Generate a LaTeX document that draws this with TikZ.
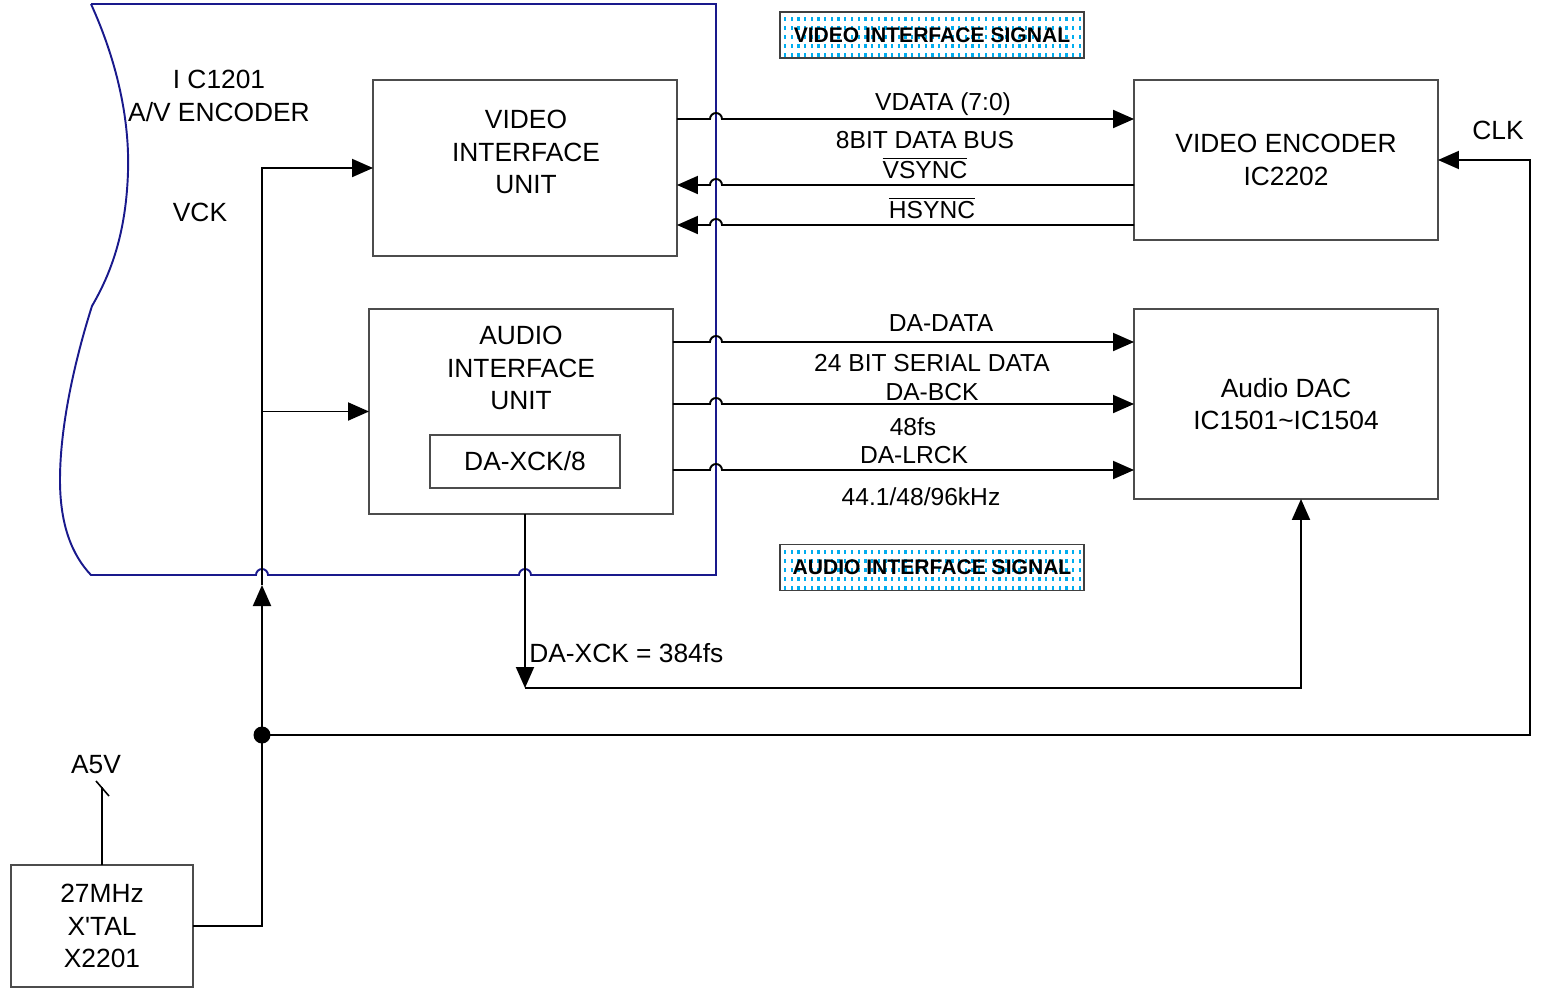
\documentclass[tikz,border=0pt]{standalone}
\usepackage{fontspec}
\setmainfont{Liberation Sans}
\usetikzlibrary{arrows.meta}
\definecolor{icblue}{rgb}{0.1,0.1,0.55}
\tikzset{
  wire/.style={line width=1.1pt},
  sig/.style={-{Triangle[length=4.2mm, width=3.6mm]}, line width=1.1pt},
  unitbox/.style={draw=black!70, line width=0.7pt, inner sep=0pt, outer sep=0pt},
  chipedge/.style={draw=icblue, line width=1.1pt},
  sigbox/.style={draw=black!75, line width=0.8pt, inner sep=0pt, minimum width=6.08cm, minimum height=0.92cm, font=\fontsize{12}{14}\selectfont\bfseries},
  boxtxt/.style={align=center, font=\fontsize{15}{18.5}\selectfont, inner sep=0pt},
  lbl/.style={font=\fontsize{14}{17}\selectfont, inner sep=0pt}
}

\begin{document}
\begin{tikzpicture}[x=0.02cm, y=-0.02cm]
  \useasboundingbox (0,0) rectangle (1546,994);

  % A/V encoder outline
  \draw[chipedge] (91,4) -- (716,4) -- (716,575) -- (531,575)
    arc[start angle=0, end angle=-180, radius=6] -- (268,575)
    arc[start angle=0, end angle=-180, radius=6] -- (91,575)
    .. controls (72,555) and (60,525) .. (60,480)
    .. controls (60,420) and (78,350) .. (92,306)
    .. controls (110,275) and (126,235) .. (128,172)
    .. controls (130,110) and (112,50) .. (91,4);
  \node[boxtxt] (ictitle) at (219,96) {I C1201\\A/V ENCODER};
  \node[boxtxt] (vcklbl) at (200,212) {VCK};

  % signal group boxes
  \foreach \px in {785,791.7,...,1080}
    \foreach \py in {17,26,...,54}
      \draw[cyan, line width=1.3pt] (\px,\py) -- ++(0,4);
  \foreach \px in {785,791.7,...,1080}
    \foreach \py in {550,559,...,587}
      \draw[cyan, line width=1.3pt] (\px,\py) -- ++(0,4);
  \node[sigbox] (vsig) at (932,35) {VIDEO INTERFACE SIGNAL};
  \node[sigbox] (asig) at (932,567.5) {AUDIO INTERFACE SIGNAL};

  % blocks
  \node[unitbox, minimum width=6.08cm, minimum height=3.52cm] (viu) at (525,168) {};
  \node[boxtxt] (viutxt) at (526,152) {VIDEO\\INTERFACE\\UNIT};
  \node[unitbox, minimum width=6.08cm, minimum height=4.10cm] (aiu) at (521,411.5) {};
  \node[boxtxt] (aiutxt) at (521,368) {AUDIO\\INTERFACE\\UNIT};
  \node[unitbox, boxtxt, draw=black!70, minimum width=3.8cm, minimum height=1.06cm] (xck8) at (525,461.5) {DA-XCK/8};
  \node[unitbox, boxtxt, draw=black!70, minimum width=6.08cm, minimum height=3.2cm] (venc) at (1286,160) {VIDEO ENCODER\\IC2202};
  \node[unitbox, boxtxt, draw=black!70, minimum width=6.08cm, minimum height=3.8cm] (dac) at (1286,404) {Audio DAC\\IC1501\textasciitilde IC1504};
  \node[unitbox, boxtxt, draw=black!70, minimum width=3.64cm, minimum height=2.44cm] (xtal) at (102,926) {27MHz\\X\textquotesingle TAL\\X2201};

  % video interface signals
  \draw[sig] (viu.east |- 0,119) -- (710,119) arc[start angle=180, end angle=360, radius=6] -- (venc.west |- 0,119);
  \draw[sig] (venc.west |- 0,185) -- (722,185) arc[start angle=0, end angle=-180, radius=6] -- (viu.east |- 0,185);
  \draw[sig] (venc.west |- 0,225) -- (722,225) arc[start angle=0, end angle=-180, radius=6] -- (viu.east |- 0,225);
  \node[lbl] (vdatalbl) at (943,104) {VDATA (7:0)};
  \node[lbl] (buslbl) at (925,140) {8BIT DATA BUS};
  \node[lbl] (vsynclbl) at (925,168) {$\overline{\mbox{VSYNC}}$};
  \node[lbl] (hsynclbl) at (932,208) {$\overline{\mbox{HSYNC}}$};

  % audio interface signals
  \draw[sig] (aiu.east |- 0,342) -- (710,342) arc[start angle=180, end angle=360, radius=6] -- (dac.west |- 0,342);
  \draw[sig] (aiu.east |- 0,404) -- (710,404) arc[start angle=180, end angle=360, radius=6] -- (dac.west |- 0,404);
  \draw[sig] (aiu.east |- 0,470) -- (710,470) arc[start angle=180, end angle=360, radius=6] -- (dac.west |- 0,470);
  \node[lbl] (dadatalbl) at (941,323) {DA-DATA};
  \node[lbl] (seriallbl) at (932,363) {24 BIT SERIAL DATA};
  \node[lbl] (bcklbl) at (932,392) {DA-BCK};
  \node[lbl] (bckrate) at (913,427) {48fs};
  \node[lbl] (lrcklbl) at (914,455) {DA-LRCK};
  \node[lbl] (lrckrate) at (921,497) {44.1/48/96kHz};

  % clocks
  \node[circle, fill, inner sep=0pt, minimum size=0.34cm] (jn) at (262,735) {};
  \coordinate (vckup) at (262,585);
  \coordinate (vckbr) at (262,411.5);
  \coordinate (clkc) at (1530,735);
  \coordinate (xckdn) at (525,688);
  \draw[wire] (xtal.east) -| (jn.center);
  \draw[sig] (jn.center) -- (vckup);
  \draw[sig] (vckup) |- (viu.west);
  \draw[sig] (vckbr) -- (aiu.west);
  \draw[sig] (jn.center) -- (clkc) |- (venc.east);
  \node[lbl, font=\fontsize{15}{18}\selectfont] (clklbl) at (1498,130) {CLK};
  \draw[sig] (xck8.south |- aiu.south) -- (xckdn);
  \draw[sig] (xckdn) -| ([xshift=0.3cm]dac.south);
  \node[lbl, font=\fontsize{15}{18}\selectfont, anchor=west] (xcklbl) at (529,653) {DA-XCK = 384fs};

  % supply
  \coordinate (a5v) at (102,787);
  \draw[wire, line width=0.9pt] (xtal.north) -- (a5v);
  \draw[line width=0.9pt] (96,781) -- (109,796);
  \node[lbl, font=\fontsize{15}{18}\selectfont] (a5vlbl) at (96,765) {A5V};
\end{tikzpicture}
\end{document}
